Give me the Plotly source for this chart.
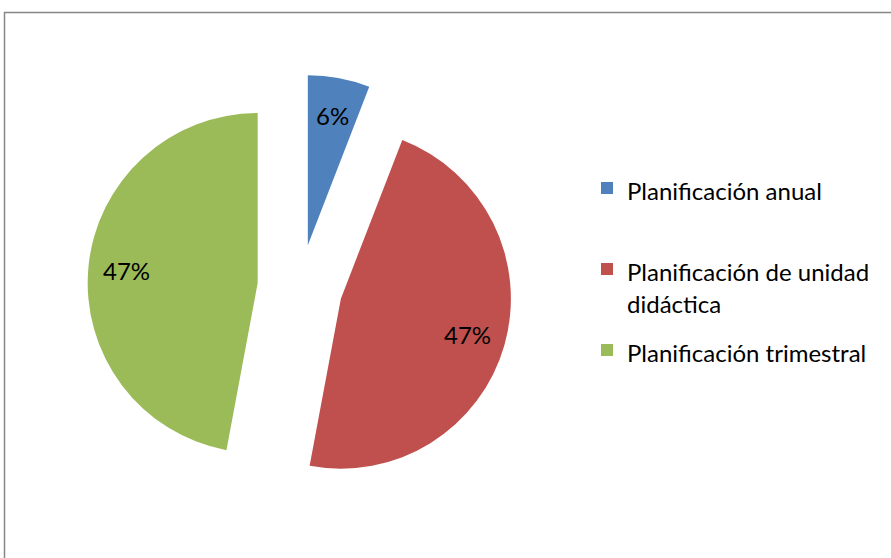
import math
import plotly.graph_objects as go

labels = ["Planificación anual", "Planificación de unidad didáctica", "Planificación trimestral"]
legend_lines = [["Planificación anual", " "], ["Planificación de unidad", "didáctica"], ["Planificación trimestral"]]
values = [1, 8, 8]
colors = ["#4F81BD", "#C0504D", "#9BBB59"]
pull = 0.25

W, H = 891, 558
cx, cy, R = 300, 287, 170          # pie centre and slice radius (px)
box = 2 * R * (1 + pull)
FONT = "Lato"
TXT = 24

def span(t, i):
    shift = ";baseline-shift:7px" if i > 0 else ""
    return f"<span style='font-size:{TXT}px{shift}'>{t}</span>"

legend_text = ["<br>".join(span(t, i) for i, t in enumerate(lines)) for lines in legend_lines]

fig = go.Figure(go.Pie(
    labels=legend_text,
    values=values,
    customdata=labels,
    marker=dict(colors=colors, line=dict(width=0)),
    pull=[pull] * len(values),
    sort=False,
    direction="clockwise",
    rotation=0,
    textinfo="none",
    hovertemplate="%{customdata}: %{percent}<extra></extra>",
    domain=dict(x=[(cx - box / 2) / W, (cx + box / 2) / W],
                y=[1 - (cy + box / 2) / H, 1 - (cy - box / 2) / H]),
))

# percentage labels placed inside each (pulled) slice, computed from the values
total = sum(values)
annotations = []
cum = 0
for v in values:
    mid = 2 * math.pi * (cum + v / 2) / total
    cum += v
    d = pull * R + 0.775 * R
    x = cx + d * math.sin(mid)
    y = cy - d * math.cos(mid)
    annotations.append(dict(x=x / W, y=1 - y / H, xref="paper", yref="paper",
                            text=f"{round(100 * v / total)}%", showarrow=False,
                            xanchor="center", yanchor="middle",
                            font=dict(family=FONT, size=TXT, color="black")))

fig.update_layout(
    width=W, height=H,
    margin=dict(l=0, r=0, t=0, b=0),
    paper_bgcolor="white",
    font=dict(family=FONT, size=TXT, color="black"),
    showlegend=True,
    legend=dict(x=587 / W, y=1 - 162 / H, xanchor="left", yanchor="top",
                valign="top", font=dict(family=FONT, size=30, color="black")),
    annotations=annotations,
    shapes=[dict(type="rect", xref="paper", yref="paper",
                 x0=4.5 / W, x1=1.05, y0=-0.05, y1=1 - 12.5 / H,
                 line=dict(color="#868686", width=1.5), fillcolor="rgba(0,0,0,0)")],
)

fig.write_html("out.html", config={"displayModeBar": False},
               post_script="document.body.style.margin='0px';")
